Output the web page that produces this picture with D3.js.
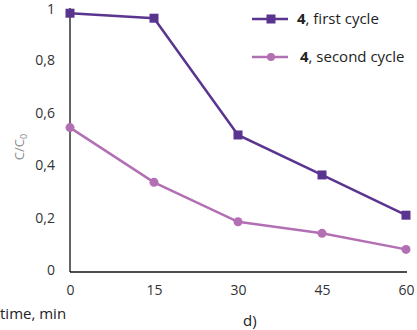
<!DOCTYPE html>
<html>
<head>
<meta charset="utf-8">
<script src="https://cdn.jsdelivr.net/npm/d3@7"></script>
<style>
    body { margin: 0; background: #fff; }
    text { font-family: "Open Sans", sans-serif; }
</style>
</head>
<body>
<div id="chart"></div>
<script>
let times = [0, 15, 30, 45, 60],
    firstCycle = [0.984, 0.965, 0.521, 0.369, 0.216],
    secondCycle = [0.549, 0.341, 0.191, 0.147, 0.086],
    yTicks = [0, 0.2, 0.4, 0.6, 0.8, 1],
    yTickLabels = ['0', '0,2', '0,4', '0,6', '0,8', '1'];

let width = 417,
    height = 330;

let svg = d3.select('#chart').append('svg')
    .attr('width', width)
    .attr('height', height);

let x = d3.scaleLinear().domain([0, 60]).range([70, 406]);
let y = d3.scaleLinear().domain([0, 1]).range([272, 9]);

let series = [
    {name: 'first cycle', values: firstCycle, color: '#5a3590', shape: 'square'},
    {name: 'second cycle', values: secondCycle, color: '#b36fb4', shape: 'circle'}
];

// axes
svg.append('g')
    .attr('transform', `translate(0, ${y(0)})`)
    .call(d3.axisBottom(x).tickValues(times).tickSize(0).tickPadding(13))
    .call(g => g.select('.domain').attr('stroke', '#111').attr('stroke-width', 1.3).attr('d', `M${x(0)},0H${x(60) + 1}`))
    .call(g => g.selectAll('text').attr('font-size', 14).attr('fill', '#333').style('font-family', '"Open Sans", sans-serif'));

svg.append('g')
    .attr('transform', `translate(${x(0)}, 0)`)
    .call(d3.axisLeft(y).tickValues(yTicks).tickFormat((d, i) => yTickLabels[i]).tickSize(0).tickPadding(15))
    .call(g => g.select('.domain').attr('stroke', '#111').attr('stroke-width', 1.3).attr('d', `M0,${y(0)}V${y(1) - 1}`))
    .call(g => g.selectAll('text').attr('font-size', 14).attr('fill', '#333')
        .attr('dy', d => d === 1 ? '0.3em' : '0.2em')
        .style('font-family', '"Open Sans", sans-serif'));

// y label C/C0
let yLabel = svg.append('text')
    .attr('transform', 'translate(24, 147) rotate(-90)')
    .attr('text-anchor', 'middle')
    .attr('font-size', 13)
    .attr('fill', '#8c8c8c');
yLabel.append('tspan').text('C/C');
yLabel.append('tspan').attr('font-size', 9).attr('dy', 3).text('0');

svg.append('text')
    .attr('x', 0)
    .attr('y', 319)
    .attr('font-size', 15)
    .attr('fill', '#222')
    .text('time, min');

svg.append('text')
    .attr('x', 243)
    .attr('y', 326)
    .attr('font-size', 15)
    .attr('fill', '#222')
    .text('d)');

// lines
let line = d3.line()
    .x((d, i) => x(times[i]))
    .y(d => y(d));

series.forEach(s => {
    svg.append('path')
        .datum(s.values)
        .attr('fill', 'none')
        .attr('stroke', s.color)
        .attr('stroke-width', 2.5)
        .attr('d', line);

    let marks = svg.append('g').selectAll('.mark')
        .data(s.values)
        .join(s.shape === 'square' ? 'rect' : 'circle')
        .attr('class', 'mark')
        .attr('fill', s.color);

    if (s.shape === 'square') {
        marks.attr('x', (d, i) => x(times[i]) - 4.5)
            .attr('y', d => y(d) - 4.5)
            .attr('width', 9)
            .attr('height', 9);
    } else {
        marks.attr('cx', (d, i) => x(times[i]))
            .attr('cy', d => y(d))
            .attr('r', 4.5);
    }
});

// legend
let legend = svg.append('g');
series.forEach((s, i) => {
    let ly = 19 + i * 38;
    legend.append('line')
        .attr('x1', 252).attr('x2', 288)
        .attr('y1', ly).attr('y2', ly)
        .attr('stroke', s.color)
        .attr('stroke-width', 2.5);
    if (s.shape === 'square') {
        legend.append('rect')
            .attr('x', 266.5).attr('y', ly - 4.5)
            .attr('width', 9).attr('height', 9)
            .attr('fill', s.color);
    } else {
        legend.append('circle')
            .attr('cx', 271).attr('cy', ly)
            .attr('r', 4)
            .attr('fill', s.color);
    }
    let t = legend.append('text')
        .attr('x', i === 0 ? 297 : 300)
        .attr('y', ly + 5)
        .attr('font-size', 15)
        .attr('fill', '#222');
    t.append('tspan').attr('font-weight', 'bold').text('4');
    t.append('tspan').text(', ' + s.name);
});
</script>
</body>
</html>
